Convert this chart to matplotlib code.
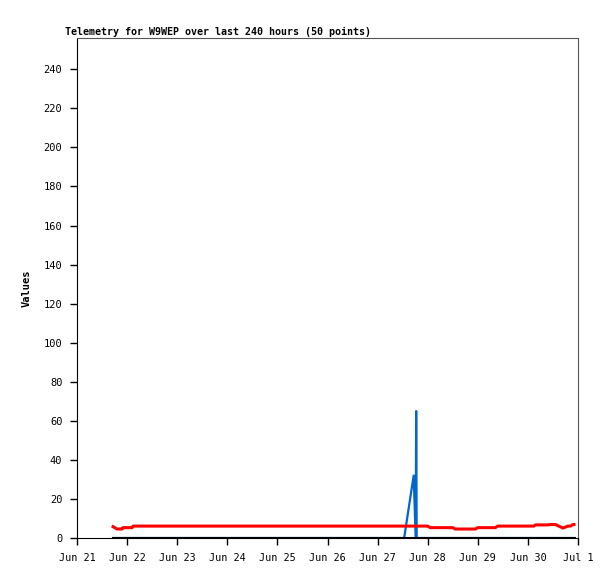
import matplotlib
matplotlib.use("Agg")
import matplotlib.pyplot as plt
import numpy as np

# Time offsets in days from Jun 21 00:00
red_t = [0.72, 0.80, 0.90, 0.92, 1.10, 1.12, 2.0, 3.0, 4.0, 5.0, 6.0, 7.00, 7.05, 7.50,
         7.55, 7.95, 8.00, 8.35, 8.40, 9.12, 9.15, 9.40, 9.45, 9.55, 9.70, 9.80, 9.85, 9.90, 9.92]
red_v = [5.8, 4.6, 4.6, 5.3, 5.3, 6.1, 6.1, 6.1, 6.1, 6.1, 6.1, 6.1, 5.3, 5.3,
         4.6, 4.6, 5.3, 5.3, 6.1, 6.1, 6.7, 6.7, 6.9, 6.9, 5.1, 6.1, 6.1, 6.9, 6.9]

blue_t = [0.72, 6.53, 6.72, 6.76, 6.77, 6.78, 9.92]
blue_v = [0, 0, 32, 0, 65, 0, 0]

black_t = [0.72, 9.92]
black_v = [0, 0]

x_ticks = list(range(0, 11))
x_labels = ["Jun 21", "Jun 22", "Jun 23", "Jun 24", "Jun 25", "Jun 26",
            "Jun 27", "Jun 28", "Jun 29", "Jun 30", "Jul 1"]
y_ticks = list(range(0, 241, 20))

mono = "DejaVu Sans Mono"
fig = plt.figure(figsize=(6.15, 5.79), dpi=100)
ax = fig.add_axes([77/615, 41/579, 501/615, 500/579])

ax.plot(blue_t, blue_v, color="#0066cc", lw=1.6, zorder=2)
ax.plot(red_t, red_v, color="#ff0000", lw=2.2, zorder=3)
ax.plot(black_t, black_v, color="#000000", lw=2.2, zorder=4)

ax.set_xlim(0, 10)
ax.set_ylim(0, 256)
ax.set_xticks(x_ticks)
ax.set_xticklabels(x_labels, fontfamily=mono, fontsize=7.3)
ax.set_yticks(y_ticks)
ax.set_yticklabels([str(v) for v in y_ticks], fontfamily=mono, fontsize=7.5)
ax.tick_params(direction="out", length=5, width=1, colors="black")
ax.tick_params(axis="y", pad=5.5)
ax.tick_params(axis="x", pad=6)

for s in ["top", "right"]:
    ax.spines[s].set_color("#555555")
ax.spines["left"].set_color("black")
ax.spines["bottom"].set_color("black")

fig.text(65/615, 1 - 35/579, "Telemetry for W9WEP over last 240 hours (50 points)",
         ha="left", va="baseline", fontfamily=mono, fontweight="bold", fontsize=7.2)
ax.set_ylabel("Values", fontfamily=mono, fontweight="bold", fontsize=7.5)
ax.yaxis.set_label_coords((32 - 77) / 501, 0.5)

fig.savefig("out.png", dpi=100)
